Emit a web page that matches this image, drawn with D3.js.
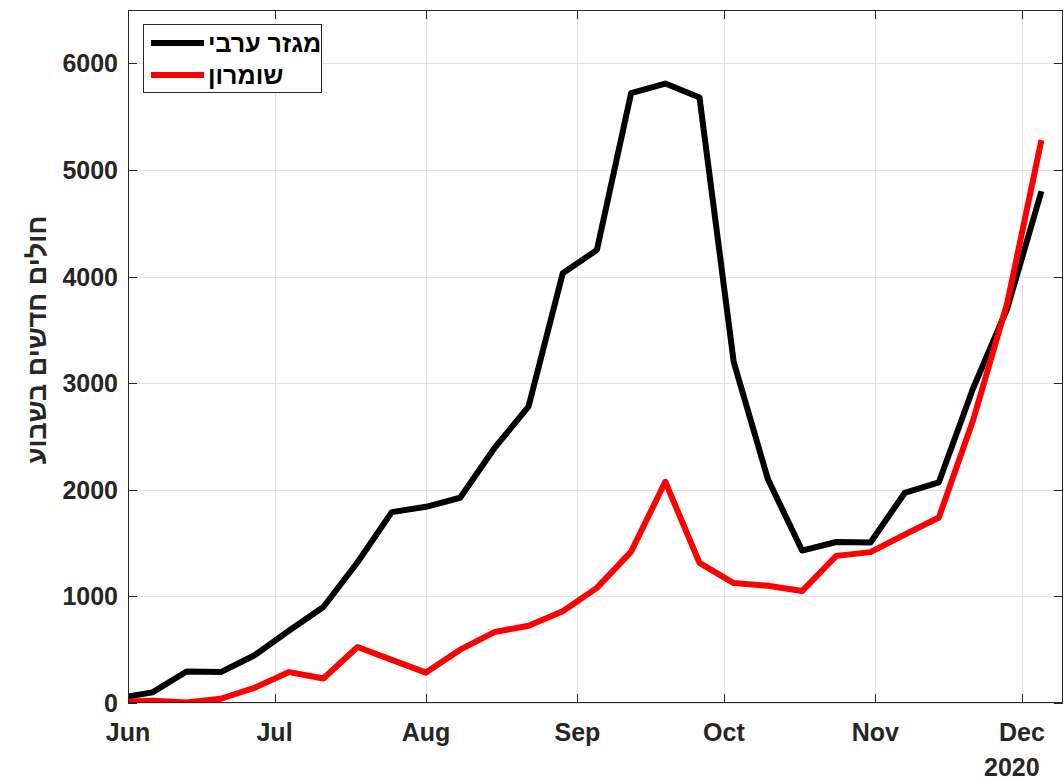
<!DOCTYPE html>
<html>
<head>
<meta charset="utf-8">
<script src="https://cdn.jsdelivr.net/npm/d3@7"></script>
<style>
  html, body { margin: 0; padding: 0; background: #fff; }
  svg { display: block; font-family: "Liberation Sans", Arial, Helvetica, sans-serif; }
</style>
</head>
<body>
<svg id="chart" width="1064" height="780"></svg>
<script>
// weekly points (first one is where the line enters the axes)
const dates = [
    '2020-06-01', '2020-06-06', '2020-06-13', '2020-06-20', '2020-06-27',
    '2020-07-04', '2020-07-11', '2020-07-18', '2020-07-25',
    '2020-08-01', '2020-08-08', '2020-08-15', '2020-08-22', '2020-08-29',
    '2020-09-05', '2020-09-12', '2020-09-19', '2020-09-26',
    '2020-10-03', '2020-10-10', '2020-10-17', '2020-10-24', '2020-10-31',
    '2020-11-07', '2020-11-14', '2020-11-21', '2020-11-28', '2020-12-05'
];
const arabSector = [
    60, 100, 295, 290, 450, 680, 900, 1320, 1790, 1840, 1925, 2390, 2780, 4030,
    4250, 5720, 5810, 5680, 3200, 2100, 1430, 1510, 1505, 1970, 2070, 2950, 3700, 4800
];
const samaria = [
    15, 20, 5, 40, 145, 290, 230, 525, 405, 285, 500, 665, 725, 860,
    1080, 1420, 2075, 1315, 1125, 1100, 1050, 1380, 1415, 1580, 1740, 2650, 3750, 5280
];
const seriesNames = ['מגזר ערבי', 'שומרון'];
const seriesColors = ['#000000', '#ff0000'];
const yTicks = [0, 1000, 2000, 3000, 4000, 5000, 6000];
const monthTicks = ['2020-06-01', '2020-07-01', '2020-08-01', '2020-09-01', '2020-10-01', '2020-11-01', '2020-12-01'];
const yLabel = 'חולים חדשים בשבוע';
const yearLabel = '2020';

const parse = d3.utcParse('%Y-%m-%d');
const box = { left: 128, right: 1063, top: 10, bottom: 703 };
const ink = '#262626';

const svg = d3.select('#chart');

const x = d3.scaleUtc()
    .domain([parse('2020-06-01'), new Date(Date.UTC(2020, 11, 9, 10))])
    .range([box.left, box.right]);
const y = d3.scaleLinear()
    .domain([0, 6500])
    .range([box.bottom, box.top]);

// grid
const grid = svg.append('g').attr('stroke', '#e3e3e3').attr('stroke-width', 1);
grid.selectAll('.gx').data(monthTicks.map(parse)).join('line')
    .attr('x1', d => Math.round(x(d)) + 0.5).attr('x2', d => Math.round(x(d)) + 0.5)
    .attr('y1', box.top).attr('y2', box.bottom);
grid.selectAll('.gy').data(yTicks).join('line')
    .attr('x1', box.left).attr('x2', box.right)
    .attr('y1', d => Math.round(y(d)) + 0.5).attr('y2', d => Math.round(y(d)) + 0.5);

// lines, clipped to the axes box
svg.append('clipPath').attr('id', 'clip')
    .append('rect')
    .attr('x', box.left).attr('y', box.top)
    .attr('width', box.right - box.left).attr('height', box.bottom - box.top);

const line = d3.line()
    .x((d, i) => x(parse(dates[i])))
    .y(d => y(d));

const plot = svg.append('g').attr('clip-path', 'url(#clip)');
[arabSector, samaria].forEach((vals, k) => {
    plot.append('path')
        .datum(vals)
        .attr('d', line)
        .attr('fill', 'none')
        .attr('stroke', seriesColors[k])
        .attr('stroke-width', 6)
        .attr('stroke-linejoin', 'round');
});

// axes box and inward ticks
const axes = svg.append('g').attr('stroke', ink).attr('stroke-width', 1).attr('fill', 'none');
axes.append('rect')
    .attr('x', box.left + 0.5).attr('y', box.top + 0.5)
    .attr('width', box.right - box.left - 1).attr('height', box.bottom - box.top - 1);
const tl = 9;
monthTicks.map(parse).forEach(d => {
    const px = Math.round(x(d)) + 0.5;
    axes.append('line').attr('x1', px).attr('x2', px).attr('y1', box.bottom).attr('y2', box.bottom - tl);
    axes.append('line').attr('x1', px).attr('x2', px).attr('y1', box.top).attr('y2', box.top + tl);
});
yTicks.forEach(v => {
    const py = Math.round(y(v)) + 0.5;
    axes.append('line').attr('x1', box.left).attr('x2', box.left + tl).attr('y1', py).attr('y2', py);
    axes.append('line').attr('x1', box.right).attr('x2', box.right - tl).attr('y1', py).attr('y2', py);
});

// tick labels
const monthFmt = d3.utcFormat('%b');
svg.append('g').selectAll('text').data(monthTicks.map(parse)).join('text')
    .attr('x', d => x(d))
    .attr('y', 741)
    .attr('text-anchor', 'middle')
    .attr('font-size', 25).attr('font-weight', 'bold').attr('fill', ink)
    .text(d => monthFmt(d));
svg.append('text')
    .attr('x', x(parse('2020-12-01')) - 10)
    .attr('y', 776)
    .attr('text-anchor', 'middle')
    .attr('font-size', 25).attr('font-weight', 'bold').attr('fill', ink)
    .text(yearLabel);

svg.append('g').selectAll('text').data(yTicks).join('text')
    .attr('x', 118)
    .attr('y', d => y(d))
    .attr('dy', '0.36em')
    .attr('text-anchor', 'end')
    .attr('font-size', 25).attr('font-weight', 'bold').attr('fill', ink)
    .text(d => d);

svg.append('text')
    .attr('transform', 'translate(46,340) rotate(-90)')
    .attr('text-anchor', 'middle')
    .attr('font-size', 27).attr('font-weight', 'bold').attr('fill', ink)
    .text(yLabel);

// legend
const lg = svg.append('g');
lg.append('rect')
    .attr('x', 143.5).attr('y', 24.5).attr('width', 178).attr('height', 68)
    .attr('fill', '#fff').attr('stroke', ink).attr('stroke-width', 1);
seriesNames.forEach((name, k) => {
    const ly = 43 + k * 32;
    lg.append('line')
        .attr('x1', 151).attr('x2', 204).attr('y1', ly).attr('y2', ly)
        .attr('stroke', seriesColors[k]).attr('stroke-width', 6);
    lg.append('text')
        .attr('x', 208).attr('y', ly).attr('dy', '0.36em')
        .attr('text-anchor', 'start')
        .attr('font-size', 25).attr('font-weight', 'bold').attr('fill', '#000')
        .text(name);
});
</script>
</body>
</html>
